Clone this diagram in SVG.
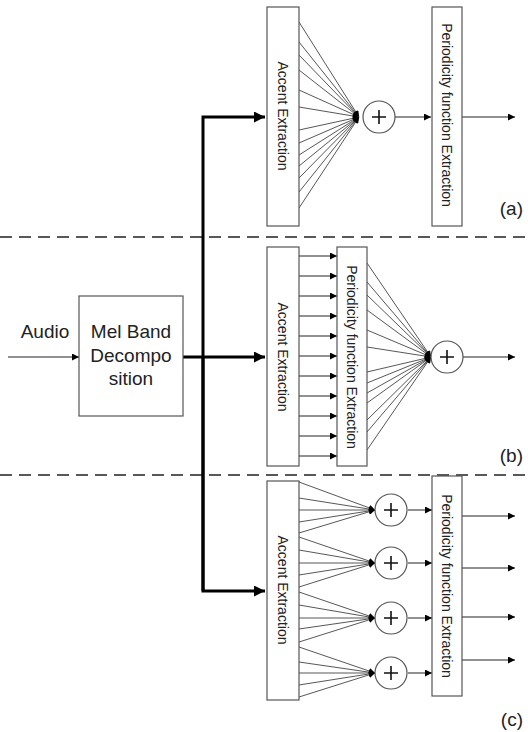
<svg xmlns="http://www.w3.org/2000/svg" width="528" height="732" viewBox="0 0 528 732">
<defs>
<style>
.box{fill:#fff;stroke:#555;stroke-width:1.2}
.t{font-family:"Liberation Sans",Arial,sans-serif;fill:#222}
.lab{font-size:19px}
.rot{font-size:14px;text-anchor:middle}
.thin{stroke:#222;stroke-width:1;fill:none}
.fan{stroke:#444;stroke-width:0.9;fill:none}
.bold{stroke:#000;stroke-width:3;fill:none}
.dash{stroke:#222;stroke-width:1.5;stroke-dasharray:12 7;fill:none}
.sum{fill:#fff;stroke:#555;stroke-width:1.2}
.plus{stroke:#111;stroke-width:1.6}
</style>
<marker id="ah" viewBox="0 0 10 10" refX="10" refY="5" markerWidth="8" markerHeight="7" markerUnits="userSpaceOnUse" orient="auto"><path d="M0,0 L10,5 L0,10 z" fill="#000"/></marker>
<marker id="fh" viewBox="0 0 10 10" refX="10" refY="5" markerWidth="7" markerHeight="6" markerUnits="userSpaceOnUse" orient="auto"><path d="M0,0 L10,5 L0,10 z" fill="#000"/></marker>
<marker id="bh" viewBox="0 0 10 10" refX="10" refY="5" markerWidth="13" markerHeight="11" markerUnits="userSpaceOnUse" orient="auto"><path d="M0,0 L10,5 L0,10 z" fill="#000"/></marker>
</defs>

<g id="dividers">
<line class="dash" x1="0" y1="237" x2="528" y2="237"/>
<line class="dash" x1="0" y1="475" x2="528" y2="475"/>
</g>

<g id="connectors">
<!-- audio input -->
<line class="thin" x1="8" y1="357" x2="79" y2="357" marker-end="url(#ah)"/>
<!-- bold distribution -->
<polyline class="bold" points="203,591 203,117 265,117" marker-end="url(#bh)"/>
<line class="bold" x1="183" y1="357" x2="265" y2="357" marker-end="url(#bh)"/>
<polyline class="bold" points="203,357 203,591 265,591" marker-end="url(#bh)"/>
<!-- (a) fan -->
<g class="fan" marker-end="url(#fh)">
<line x1="299" y1="22" x2="359" y2="117"/>
<line x1="299" y1="42" x2="359" y2="117"/>
<line x1="299" y1="55" x2="359" y2="117"/>
<line x1="299" y1="70" x2="359" y2="117"/>
<line x1="299" y1="90" x2="359" y2="117"/>
<line x1="299" y1="107" x2="359" y2="117"/>
<line x1="299" y1="130" x2="359" y2="117"/>
<line x1="299" y1="143" x2="359" y2="117"/>
<line x1="299" y1="155" x2="359" y2="117"/>
<line x1="299" y1="166" x2="359" y2="117"/>
<line x1="299" y1="178" x2="359" y2="117"/>
<line x1="299" y1="192" x2="359" y2="117"/>
<line x1="299" y1="208" x2="359" y2="117"/>
</g>
<line class="thin" x1="395" y1="117" x2="431" y2="117" marker-end="url(#ah)"/>
<line class="thin" x1="462" y1="117" x2="515" y2="117" marker-end="url(#ah)"/>
<!-- (b) parallel arrows -->
<g class="thin" marker-end="url(#ah)">
<line x1="299" y1="256" x2="337" y2="256"/>
<line x1="299" y1="276" x2="337" y2="276"/>
<line x1="299" y1="296" x2="337" y2="296"/>
<line x1="299" y1="316" x2="337" y2="316"/>
<line x1="299" y1="336" x2="337" y2="336"/>
<line x1="299" y1="356" x2="337" y2="356"/>
<line x1="299" y1="376" x2="337" y2="376"/>
<line x1="299" y1="396" x2="337" y2="396"/>
<line x1="299" y1="416" x2="337" y2="416"/>
<line x1="299" y1="436" x2="337" y2="436"/>
<line x1="299" y1="456" x2="337" y2="456"/>
</g>
<!-- (b) fan -->
<g class="fan" marker-end="url(#fh)">
<line x1="367" y1="263" x2="431" y2="357"/>
<line x1="367" y1="282" x2="431" y2="357"/>
<line x1="367" y1="295" x2="431" y2="357"/>
<line x1="367" y1="310" x2="431" y2="357"/>
<line x1="367" y1="330" x2="431" y2="357"/>
<line x1="367" y1="347" x2="431" y2="357"/>
<line x1="367" y1="372" x2="431" y2="357"/>
<line x1="367" y1="383" x2="431" y2="357"/>
<line x1="367" y1="393" x2="431" y2="357"/>
<line x1="367" y1="403" x2="431" y2="357"/>
<line x1="367" y1="420" x2="431" y2="357"/>
<line x1="367" y1="432" x2="431" y2="357"/>
<line x1="367" y1="450" x2="431" y2="357"/>
</g>
<line class="thin" x1="463" y1="357" x2="515" y2="357" marker-end="url(#ah)"/>
<!-- (c) fans -->
<g class="fan" marker-end="url(#fh)">
<line x1="299" y1="482" x2="375" y2="510"/>
<line x1="299" y1="498" x2="375" y2="510"/>
<line x1="299" y1="510" x2="375" y2="510"/>
<line x1="299" y1="522" x2="375" y2="510"/>
<line x1="299" y1="533" x2="375" y2="510"/>
<line x1="299" y1="537" x2="375" y2="563"/>
<line x1="299" y1="550" x2="375" y2="563"/>
<line x1="299" y1="563" x2="375" y2="563"/>
<line x1="299" y1="575" x2="375" y2="563"/>
<line x1="299" y1="587" x2="375" y2="563"/>
<line x1="299" y1="592" x2="375" y2="618"/>
<line x1="299" y1="605" x2="375" y2="618"/>
<line x1="299" y1="618" x2="375" y2="618"/>
<line x1="299" y1="629" x2="375" y2="618"/>
<line x1="299" y1="642" x2="375" y2="618"/>
<line x1="299" y1="647" x2="375" y2="673"/>
<line x1="299" y1="662" x2="375" y2="673"/>
<line x1="299" y1="673" x2="375" y2="673"/>
<line x1="299" y1="685" x2="375" y2="673"/>
<line x1="299" y1="697" x2="375" y2="673"/>
</g>
<g class="thin" marker-end="url(#ah)">
<line x1="408" y1="510" x2="432" y2="510"/>
<line x1="408" y1="563" x2="432" y2="563"/>
<line x1="408" y1="618" x2="432" y2="618"/>
<line x1="408" y1="673" x2="432" y2="673"/>
<line x1="462" y1="516" x2="515" y2="516"/>
<line x1="462" y1="568" x2="515" y2="568"/>
<line x1="462" y1="617" x2="515" y2="617"/>
<line x1="462" y1="660" x2="515" y2="660"/>
</g>
</g>

<g id="audio-label"><text class="t lab" x="45" y="338" text-anchor="middle">Audio</text></g>

<g id="mel">
<rect class="box" x="79" y="296" width="104" height="120"/>
<text class="t lab" text-anchor="middle"><tspan x="131" y="338">Mel Band</tspan><tspan x="131" y="362">Decompo</tspan><tspan x="131" y="385">sition</tspan></text>
</g>

<g id="accent-a">
<rect class="box" x="267" y="7" width="32" height="219"/>
<text class="t rot" transform="translate(278,116) rotate(90)">Accent Extraction</text>
</g>
<g id="sum-a">
<circle class="sum" cx="379" cy="117" r="16"/>
<path class="plus" d="M372,117 H386 M379,110 V124"/>
</g>
<g id="period-a">
<rect class="box" x="432" y="7" width="30" height="219"/>
<text class="t rot" transform="translate(442,115) rotate(90)">Periodicity function Extraction</text>
</g>
<g id="label-a"><text class="t lab" x="523" y="215" text-anchor="end">(a)</text></g>

<g id="accent-b">
<rect class="box" x="267" y="247" width="32" height="219"/>
<text class="t rot" transform="translate(278,357) rotate(90)">Accent Extraction</text>
</g>
<g id="period-b">
<rect class="box" x="337" y="247" width="30" height="219"/>
<text class="t rot" transform="translate(347,357) rotate(90)">Periodicity function Extraction</text>
</g>
<g id="sum-b">
<circle class="sum" cx="447" cy="357" r="16"/>
<path class="plus" d="M440,357 H454 M447,350 V364"/>
</g>
<g id="label-b"><text class="t lab" x="523" y="462" text-anchor="end">(b)</text></g>

<g id="accent-c">
<rect class="box" x="267" y="481" width="32" height="219"/>
<text class="t rot" transform="translate(278,590) rotate(90)">Accent Extraction</text>
</g>
<g id="sum-c1"><circle class="sum" cx="391" cy="510" r="16"/><path class="plus" d="M384,510 H398 M391,503 V517"/></g>
<g id="sum-c2"><circle class="sum" cx="391" cy="563" r="16"/><path class="plus" d="M384,563 H398 M391,556 V570"/></g>
<g id="sum-c3"><circle class="sum" cx="391" cy="618" r="16"/><path class="plus" d="M384,618 H398 M391,611 V625"/></g>
<g id="sum-c4"><circle class="sum" cx="391" cy="673" r="16"/><path class="plus" d="M384,673 H398 M391,666 V680"/></g>
<g id="period-c">
<rect class="box" x="432" y="476" width="30" height="220"/>
<text class="t rot" transform="translate(442,586) rotate(90)">Periodicity function Extraction</text>
</g>
<g id="label-c"><text class="t lab" x="523" y="726" text-anchor="end">(c)</text></g>
</svg>
